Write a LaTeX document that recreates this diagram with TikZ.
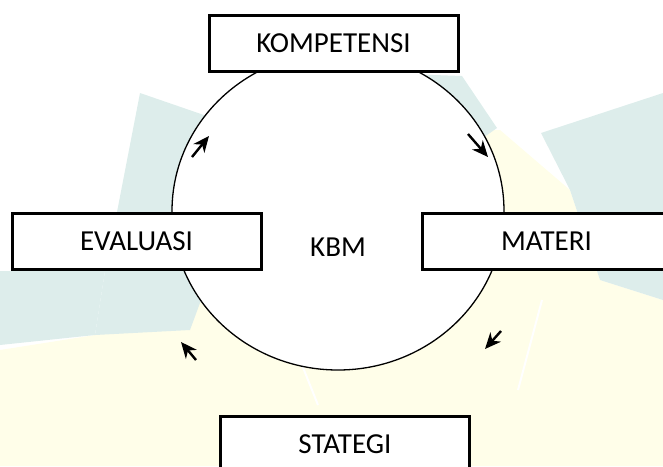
\documentclass[tikz,border=0pt]{standalone}
\usepackage{fontspec}
\setmainfont{Carlito}
\usepackage{tikz}
\usetikzlibrary{arrows.meta, positioning}

\definecolor{wmteal}{RGB}{221,237,235}
\definecolor{wmyellow}{RGB}{255,254,233}

\tikzset{
    topicbox/.style={draw, line width=3pt, fill=white, minimum width=249pt,
        minimum height=56pt, inner sep=0pt, font=\fontsize{29}{34}\selectfont},
    flow/.style={-{Stealth[length=16pt, width=14pt, inset=5pt]}, line width=2.4pt},
}

\begin{document}
\begin{tikzpicture}[x=1pt, y=-1pt]
    \useasboundingbox (0,0) rectangle (663,466);

    % Watermark in the background
    \fill[wmyellow] (0,350) -- (95,335) -- (175,200) -- (250,140) -- (500,130)
        -- (570,190) -- (600,280) -- (663,300) -- (663,466) -- (0,466) -- cycle;
    \fill[wmteal] (140,93) -- (262,135) -- (190,330) -- (95,335) -- (105,271)
        -- (117,212) -- cycle;
    \fill[wmteal] (0,271) -- (105,271) -- (95,335) -- (0,345) -- cycle;
    \fill[wmteal] (405,74) -- (462,76) -- (497,128) -- (480,140) -- cycle;
    \fill[wmteal] (541,133) -- (663,93) -- (663,300) -- (600,280) -- (570,190) -- cycle;
    \draw[white, line width=2pt] (542,300) -- (518,390);
    \draw[white, line width=2pt] (300,360) -- (318,405);

    % Cycle
    \draw[line width=1.3pt, fill=white] (338,211) ellipse [x radius=166, y radius=159];
    \node[font=\fontsize{29}{34}\selectfont] (kbm) at (338,247) {KBM};

    % Boxes
    \node[topicbox] (kompetensi) at (333.5,43) {KOMPETENSI};
    \node[topicbox] (evaluasi) at (136.5,241.5) {EVALUASI};
    \node[topicbox] (materi) at (546.5,241.5) {MATERI};
    \node[topicbox] (stategi) at (345,444) {STATEGI};

    % Arrows
    \coordinate (a1s) at (192,157); \coordinate (a1e) at (209,136);
    \coordinate (a2s) at (468,134); \coordinate (a2e) at (488,157);
    \coordinate (a3s) at (196,360); \coordinate (a3e) at (181,342);
    \coordinate (a4s) at (501,331); \coordinate (a4e) at (485,349);
    \draw[flow] (a1s) -- (a1e);
    \draw[flow] (a2s) -- (a2e);
    \draw[flow] (a3s) -- (a3e);
    \draw[flow] (a4s) -- (a4e);
\end{tikzpicture}
\end{document}
